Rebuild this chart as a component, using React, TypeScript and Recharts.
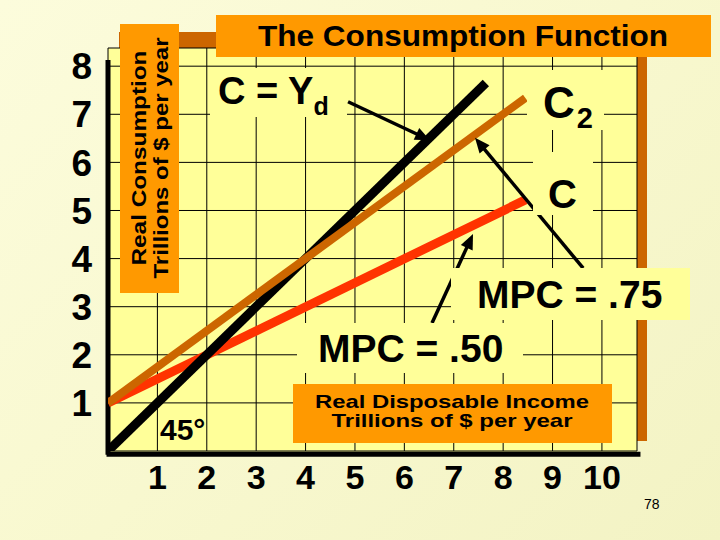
import React from 'react';
import { LineChart, Line, XAxis, YAxis, CartesianGrid, ReferenceLine } from 'recharts';

const FONT = '"Liberation Sans", Arial, Helvetica, sans-serif';

// tick values on both axes (trillions of $ per year)
const xTicks = [1, 2, 3, 4, 5, 6, 7, 8, 9, 10];
const yTicks = [1, 2, 3, 4, 5, 6, 7, 8];

// 45 degree line, C = Yd
const incomeYd = [0, 7.65];
const consumptionYd = [0, 7.65];
// C, MPC = .50
const incomeC = [0, 8.45];
const consumptionC = [1, 5.22];
// C2, MPC = .75
const incomeC2 = [0, 8.45];
const consumptionC2 = [1, 7.34];

// annotation arrows, [tailX, tailY, tipX, tipY] in data units
const arrowYd = [4.86, 7.26, 6.52, 6.46];
const arrowMpc75 = [9.62, 3.8, 7.43, 6.51];
const arrowMpc50 = [6.56, 2.66, 7.39, 4.51];

const toPoints = (xs: number[], ys: number[]) => xs.map((x, i) => ({ x, y: ys[i] }));

const X_MAX = 10.71;
const Y_MAX = 8.378;

function ArrowShape(p: any) {
  const { x1, y1, x2, y2 } = p;
  const dx = x2 - x1;
  const dy = y2 - y1;
  const len = Math.hypot(dx, dy) || 1;
  const ux = dx / len;
  const uy = dy / len;
  const hl = 15;
  const hw = 6.5;
  const bx = x2 - ux * hl;
  const by = y2 - uy * hl;
  return (
    <g>
      <line x1={x1} y1={y1} x2={bx + ux * 2} y2={by + uy * 2} stroke="#000" strokeWidth={3.5} />
      <polygon
        points={`${x2},${y2} ${bx - uy * hw},${by + ux * hw} ${bx + uy * hw},${by - ux * hw}`}
        fill="#000"
      />
    </g>
  );
}

function arrowSegment(a: number[]) {
  return [
    { x: a[0], y: a[1] },
    { x: a[2], y: a[3] },
  ];
}

const tickStyle = { fill: '#000', fontFamily: FONT, fontWeight: 'bold' as const };

export default function App() {
  return (
    <div
      style={{
        position: 'absolute',
        left: 0,
        top: 0,
        width: 720,
        height: 540,
        overflow: 'hidden',
        background: 'linear-gradient(135deg, #fcfcdc 0%, #f8f8cf 50%, #f3f3c4 100%)',
        fontFamily: FONT,
      }}
    >
      {/* plot frame: brown shadow and pale yellow panel */}
      <div style={{ position: 'absolute', left: 119, top: 32, width: 528, height: 409, background: '#cc6600' }} />
      <div style={{ position: 'absolute', left: 108, top: 48, width: 529, height: 406, background: '#ffff99' }} />

      <div style={{ position: 'absolute', left: 0, top: 0 }}>
        <LineChart width={720} height={540} margin={{ top: 48, right: 83, bottom: 49, left: 48 }}>
          <CartesianGrid stroke="#000" strokeWidth={1} />
          <XAxis
            type="number"
            dataKey="x"
            domain={[0, X_MAX]}
            allowDataOverflow
            ticks={xTicks}
            interval={0}
            height={40}
            axisLine={false}
            tickLine={false}
            tickSize={0}
            tickMargin={14}
            tick={{ ...tickStyle, fontSize: 34 }}
          />
          <YAxis
            type="number"
            dataKey="y"
            domain={[0, Y_MAX]}
            allowDataOverflow
            ticks={yTicks}
            interval={0}
            width={60}
            axisLine={false}
            tickLine={false}
            tickSize={0}
            tickMargin={16}
            tick={{ ...tickStyle, fontSize: 37 }}
          />
          <ReferenceLine
            segment={[{ x: 0, y: -0.08 }, { x: 0, y: 8.13 }]}
            stroke="#000"
            strokeWidth={5}
            ifOverflow="visible"
          />
          <ReferenceLine
            segment={[{ x: -0.03, y: -0.07 }, { x: 10.78, y: -0.07 }]}
            stroke="#000"
            strokeWidth={5}
            ifOverflow="visible"
          />
          <Line
            data={toPoints(incomeC, consumptionC)}
            dataKey="y"
            stroke="#ff3300"
            strokeWidth={9}
            dot={false}
            activeDot={false}
            isAnimationActive={false}
          />
          <Line
            data={toPoints(incomeYd, consumptionYd)}
            dataKey="y"
            stroke="#000"
            strokeWidth={9}
            dot={false}
            activeDot={false}
            isAnimationActive={false}
          />
          <Line
            data={toPoints(incomeC2, consumptionC2)}
            dataKey="y"
            stroke="#cc6600"
            strokeWidth={8}
            dot={false}
            activeDot={false}
            isAnimationActive={false}
          />
          <ReferenceLine segment={arrowSegment(arrowYd)} ifOverflow="visible" shape={ArrowShape} />
          <ReferenceLine segment={arrowSegment(arrowMpc75)} ifOverflow="visible" shape={ArrowShape} />
          <ReferenceLine segment={arrowSegment(arrowMpc50)} ifOverflow="visible" shape={ArrowShape} />
        </LineChart>
      </div>

      {/* labels and their backing boxes */}
      <svg
        width={720}
        height={540}
        style={{ position: 'absolute', left: 0, top: 0, pointerEvents: 'none' }}
        fontFamily={FONT}
        fontWeight="bold"
        fill="#000"
      >
        <rect x={216} y={15} width={495} height={42} fill="#ff9900" />
        <text x={463} y={46} fontSize={30} textAnchor="middle" textLength={410} lengthAdjust="spacingAndGlyphs">
          The Consumption Function
        </text>

        <rect x={120} y={24} width={59} height={269} fill="#ff9900" />
        <text
          transform="translate(146,158) rotate(-90)"
          fontSize={21}
          textAnchor="middle"
          textLength={215}
          lengthAdjust="spacingAndGlyphs"
        >
          Real Consumption
        </text>
        <text
          transform="translate(168,158) rotate(-90)"
          fontSize={21}
          textAnchor="middle"
          textLength={241}
          lengthAdjust="spacingAndGlyphs"
        >
          Trillions of $ per year
        </text>

        <rect x={293} y={384} width={319} height={59} fill="#ff9900" />
        <text x={452} y={408} fontSize={19} textAnchor="middle" textLength={274} lengthAdjust="spacingAndGlyphs">
          Real Disposable Income
        </text>
        <text x={452} y={427} fontSize={19} textAnchor="middle" textLength={241} lengthAdjust="spacingAndGlyphs">
          Trillions of $ per year
        </text>

        <rect x={210} y={68} width={137} height={49} fill="#ffff99" />
        <text x={218} y={104} fontSize={38}>
          C = Y<tspan fontSize={25} dy={11}>d</tspan>
        </text>

        <rect x={527} y={70} width={77} height={60} fill="#ffff99" />
        <text x={543} y={118} fontSize={44}>
          C<tspan fontSize={29} dy={10} dx={2}>2</tspan>
        </text>

        <rect x={533} y={152} width={60} height={63} fill="#ffff99" />
        <text x={548} y={208} fontSize={40}>
          C
        </text>

        <rect x={451} y={268} width={239} height={52} fill="#ffff99" />
        <text x={477} y={308} fontSize={39}>
          MPC = .75
        </text>

        <rect x={297} y={323} width={226} height={50} fill="#ffff99" />
        <text x={318} y={362} fontSize={39}>
          MPC = .50
        </text>

        <text x={160} y={440} fontSize={30}>
          45°
        </text>

        <text x={644} y={509} fontSize={14} fontWeight="normal">
          78
        </text>
      </svg>
    </div>
  );
}
